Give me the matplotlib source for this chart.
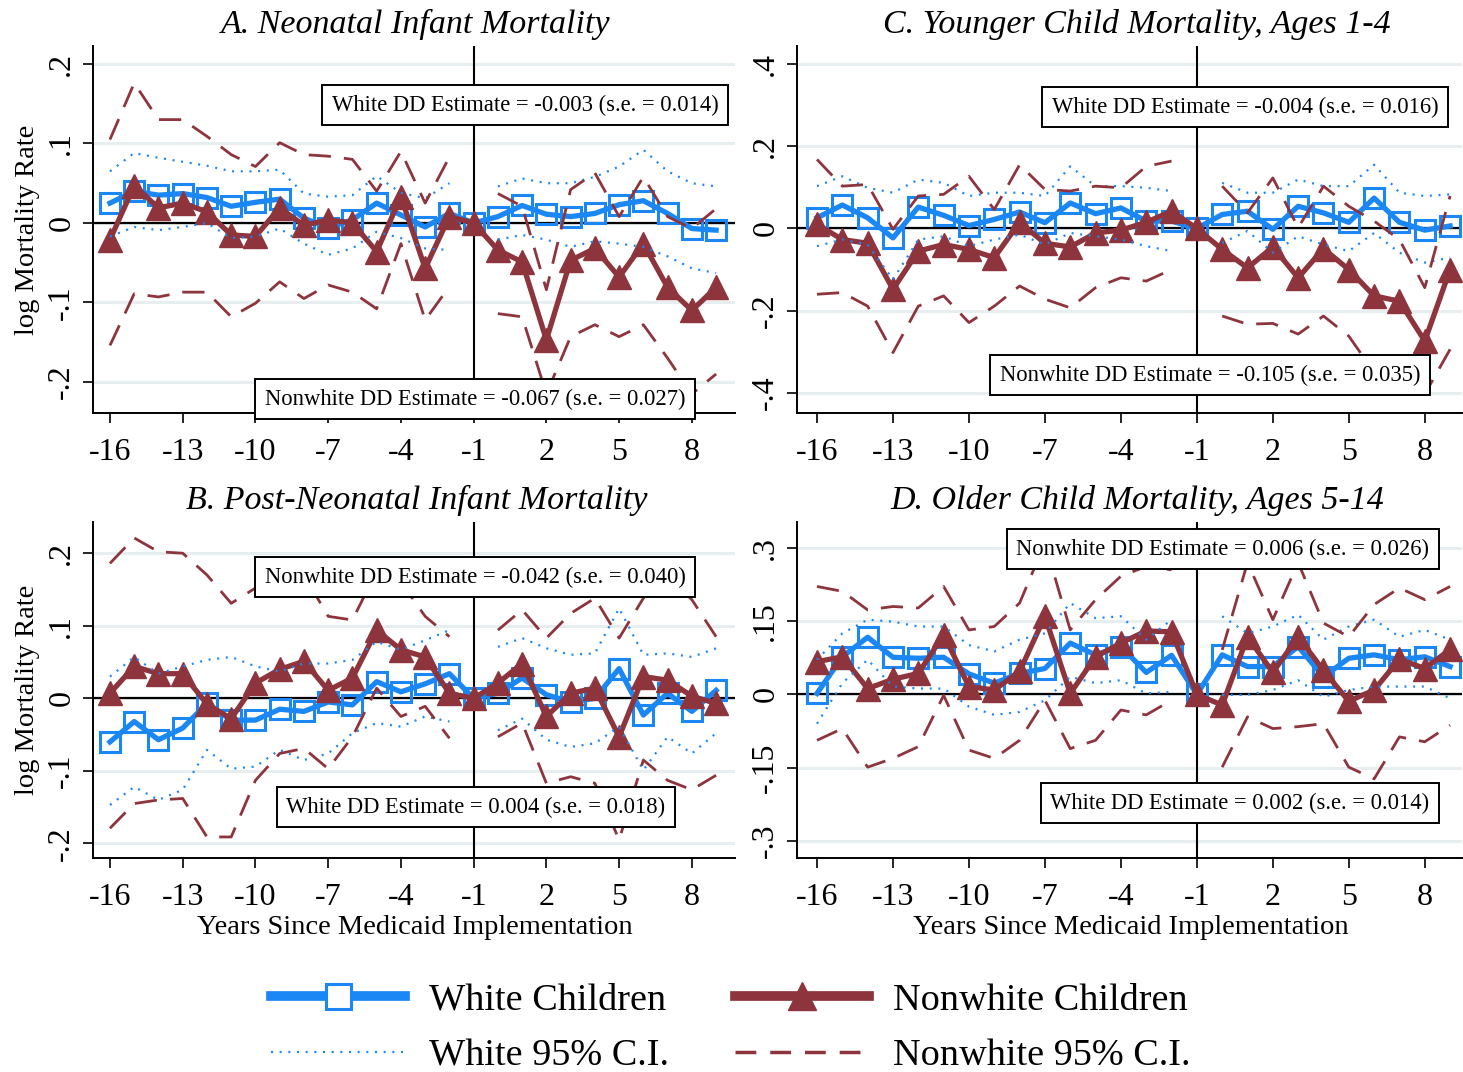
import numpy as np
import matplotlib
matplotlib.use("Agg")
import matplotlib.pyplot as plt
from matplotlib.lines import Line2D

plt.rcParams["font.family"] = ["Liberation Serif", "DejaVu Serif"]

nan = np.nan
years = list(range(-16, 10))
xticks = [-16, -13, -10, -7, -4, -1, 2, 5, 8]

# A. Neonatal infant mortality
white_a = [0.025, 0.040, 0.035, 0.037, 0.032, 0.021, 0.026, 0.030, 0.006, -0.006, 0.004, 0.025, 0.010,
           -0.005, 0.012, 0.000, 0.008, 0.022, 0.011, 0.008, 0.012, 0.023, 0.028, 0.012, -0.007, -0.009]
white_a_hi = [0.065, 0.088, 0.082, 0.077, 0.072, 0.065, 0.065, 0.067, 0.037, 0.033, 0.035, 0.059, 0.038,
              0.031, 0.050, nan, 0.046, 0.056, 0.050, 0.050, 0.058, 0.071, 0.092, 0.065, 0.050, 0.046]
white_a_lo = [-0.017, -0.005, -0.009, -0.005, 0.000, -0.019, -0.017, -0.007, -0.026, -0.040, -0.032, -0.011, -0.019,
              -0.032, -0.034, nan, -0.021, -0.015, -0.021, -0.030, -0.023, -0.026, -0.030, -0.042, -0.057, -0.063]
nonwhite_a = [-0.021, 0.047, 0.019, 0.025, 0.014, -0.015, -0.017, 0.019, -0.003, 0.004, 0.000, -0.036, 0.033,
              -0.057, 0.008, 0.000, -0.034, -0.049, -0.147, -0.047, -0.032, -0.068, -0.026, -0.081, -0.110, -0.081]
nonwhite_a_hi = [0.105, 0.176, 0.130, 0.130, 0.109, 0.086, 0.071, 0.101, 0.086, 0.084, 0.080, 0.040, 0.090,
                 0.025, 0.083, nan, 0.037, 0.021, -0.084, 0.042, 0.063, 0.008, 0.058, 0.008, -0.007, 0.018]
nonwhite_a_lo = [-0.154, -0.089, -0.093, -0.087, -0.087, -0.118, -0.101, -0.074, -0.095, -0.078, -0.087, -0.108, -0.026,
                 -0.122, -0.080, nan, -0.114, -0.118, -0.215, -0.143, -0.128, -0.143, -0.128, -0.170, -0.215, -0.190]

# B. Post-neonatal infant mortality
white_b = [-0.060, -0.032, -0.057, -0.041, -0.007, -0.030, -0.030, -0.015, -0.018, -0.005, -0.009, 0.023, 0.009,
           0.020, 0.034, 0.000, 0.007, 0.028, 0.005, -0.005, 0.000, 0.041, -0.023, 0.007, -0.018, 0.011]
white_b_hi = [0.030, 0.057, 0.034, 0.044, 0.053, 0.057, 0.044, 0.037, 0.048, 0.048, 0.053, 0.078, 0.067,
              0.080, 0.094, nan, 0.071, 0.083, 0.069, 0.060, 0.062, 0.124, 0.060, 0.062, 0.057, 0.069]
white_b_lo = [-0.147, -0.122, -0.140, -0.126, -0.071, -0.097, -0.094, -0.071, -0.085, -0.076, -0.048, -0.034, -0.039,
              -0.025, -0.032, nan, -0.044, -0.028, -0.057, -0.067, -0.062, -0.039, -0.099, -0.053, -0.076, -0.048]
nonwhite_b = [0.007, 0.044, 0.034, 0.034, -0.008, -0.028, 0.021, 0.040, 0.051, 0.011, 0.028, 0.094, 0.067,
              0.057, 0.007, 0.000, 0.021, 0.048, -0.025, 0.007, 0.014, -0.053, 0.030, 0.025, 0.003, -0.007]
nonwhite_b_hi = [0.186, 0.221, 0.202, 0.200, 0.170, 0.131, 0.152, 0.165, 0.170, 0.113, 0.108, 0.175, 0.160,
                 0.113, 0.085, nan, 0.094, 0.122, 0.083, 0.117, 0.138, 0.083, 0.138, 0.170, 0.136, 0.085]
nonwhite_b_lo = [-0.179, -0.145, -0.140, -0.138, -0.191, -0.191, -0.113, -0.076, -0.069, -0.097, -0.053, 0.014, -0.025,
                 -0.011, -0.055, nan, -0.053, -0.034, -0.117, -0.108, -0.117, -0.195, -0.085, -0.113, -0.126, -0.106]

# C. Younger child mortality, ages 1-4
white_c = [0.026, 0.057, 0.026, -0.023, 0.052, 0.032, 0.007, 0.022, 0.040, 0.014, 0.062, 0.036, 0.050,
           0.018, 0.018, 0.000, 0.034, 0.042, -0.002, 0.054, 0.038, 0.015, 0.074, 0.015, -0.004, 0.006]
white_c_hi = [0.103, 0.127, 0.099, 0.087, 0.119, 0.111, 0.079, 0.087, 0.087, 0.079, 0.151, 0.103, 0.103,
              0.099, 0.091, nan, 0.111, 0.087, 0.087, 0.119, 0.103, 0.103, 0.155, 0.087, 0.079, 0.083]
white_c_lo = [-0.043, -0.027, -0.039, -0.124, -0.027, -0.019, -0.043, -0.027, -0.015, -0.039, -0.011, -0.019, -0.027,
              -0.043, -0.055, nan, -0.035, -0.006, -0.059, -0.019, -0.039, -0.055, -0.011, -0.059, -0.083, -0.071]
nonwhite_c = [0.010, -0.027, -0.036, -0.148, -0.055, -0.039, -0.051, -0.071, 0.015, -0.036, -0.045, -0.011, -0.004,
              0.015, 0.042, 0.000, -0.051, -0.096, -0.045, -0.120, -0.049, -0.100, -0.164, -0.177, -0.274, -0.100]
nonwhite_c_hi = [0.168, 0.103, 0.107, -0.002, 0.079, 0.083, 0.127, 0.046, 0.155, 0.095, 0.091, 0.103, 0.099,
                 0.151, 0.164, nan, 0.103, 0.038, 0.123, 0.002, 0.103, 0.054, 0.018, -0.027, -0.144, 0.079]
nonwhite_c_lo = [-0.160, -0.156, -0.189, -0.302, -0.189, -0.164, -0.229, -0.189, -0.140, -0.172, -0.193, -0.144, -0.120,
                 -0.128, -0.100, nan, -0.213, -0.233, -0.231, -0.257, -0.213, -0.262, -0.350, -0.330, -0.403, -0.294]

# D. Older child mortality, ages 5-14
white_d = [0.002, 0.077, 0.117, 0.076, 0.074, 0.076, 0.042, 0.023, 0.043, 0.053, 0.105, 0.081, 0.098,
           0.045, 0.080, 0.000, 0.081, 0.057, 0.057, 0.098, 0.036, 0.074, 0.081, 0.071, 0.077, 0.057]
white_d_hi = [0.071, 0.125, 0.153, 0.149, 0.139, 0.139, 0.101, 0.088, 0.112, 0.125, 0.187, 0.156, 0.160,
              0.112, 0.153, nan, 0.160, 0.125, 0.139, 0.163, 0.112, 0.139, 0.153, 0.118, 0.132, 0.112]
white_d_lo = [-0.060, 0.023, 0.071, 0.016, 0.012, 0.012, -0.025, -0.042, -0.036, -0.012, 0.036, 0.023, 0.029,
              0.002, 0.005, nan, -0.001, -0.001, 0.009, 0.029, -0.005, 0.009, 0.016, 0.016, 0.016, -0.008]
nonwhite_d = [0.067, 0.077, 0.012, 0.031, 0.043, 0.122, 0.016, 0.009, 0.047, 0.160, 0.002, 0.077, 0.105,
              0.130, 0.128, 0.000, -0.022, 0.118, 0.045, 0.118, 0.049, -0.014, 0.009, 0.072, 0.053, 0.092]
nonwhite_d_hi = [0.221, 0.211, 0.173, 0.180, 0.177, 0.221, 0.132, 0.139, 0.187, 0.310, 0.132, 0.194, 0.242,
                 0.262, 0.255, nan, 0.091, 0.270, 0.153, 0.270, 0.146, 0.118, 0.184, 0.218, 0.194, 0.221]
nonwhite_d_lo = [-0.094, -0.070, -0.149, -0.131, -0.107, -0.002, -0.114, -0.131, -0.094, -0.012, -0.111, -0.094, -0.032,
                 -0.042, -0.012, nan, -0.149, -0.046, -0.070, -0.066, -0.060, -0.149, -0.173, -0.087, -0.097, -0.063]

BLUE = "#1a87f5"
RED = "#8e343c"
GRID = "#e6eef0"

W, H = 1463, 1072
fig = plt.figure(figsize=(W / 100, H / 100), dpi=100)


def px_axes(left, top, right, bottom):
    return fig.add_axes([left / W, 1 - bottom / H, (right - left) / W, (bottom - top) / H])


def panel(ax, white, w_lo, w_hi, nonwhite, n_lo, n_hi, title, title_x, yt, ytl, ylim, xlim):
    ax.set_xlim(*xlim)
    ax.set_ylim(*ylim)
    ax.set_yticks(yt)
    ax.set_yticklabels(ytl, rotation=90, va="center")
    ax.set_xticks(xticks)
    ax.set_xticklabels([str(t) for t in xticks])
    ax.yaxis.grid(True, color=GRID, lw=2.2)
    ax.set_axisbelow(True)
    for s in ["top", "right"]:
        ax.spines[s].set_visible(False)
    for s in ["left", "bottom"]:
        ax.spines[s].set_linewidth(1.4)
    ax.tick_params(labelsize=23, length=7, width=1.2)
    ax.tick_params(axis="x", pad=11)
    ax.tick_params(axis="y", pad=5)
    ax.axhline(0, color="black", lw=1.6, zorder=1)
    ax.axvline(-1, color="black", lw=1.5, zorder=1)

    ax.plot(years, white, color=BLUE, lw=3.8, marker="s", ms=14, mfc="none",
            mec=BLUE, mew=2.2, zorder=3)
    ax.plot(years, nonwhite, color=RED, lw=3.8, marker="^", ms=17, mfc=RED,
            mec=RED, zorder=4)
    for ci in (w_lo, w_hi):
        ax.plot(years, ci, color=BLUE, lw=1.6, dashes=(0.9, 3.0), zorder=5)
    for ci in (n_lo, n_hi):
        ax.plot(years, ci, color=RED, lw=2.0, dashes=(8, 4.7), zorder=5)
    ax.set_title(title, fontsize=24.5, style="italic", x=title_x, pad=9)


ax_a = px_axes(93, 46, 735, 413)
ax_c = px_axes(797, 46, 1462, 413)
ax_b = px_axes(93, 522, 735, 858)
ax_d = px_axes(797, 522, 1462, 858)

panel(ax_a, white_a, white_a_lo, white_a_hi, nonwhite_a, nonwhite_a_lo, nonwhite_a_hi,
      "A. Neonatal Infant Mortality", 0.503,
      [-0.2, -0.1, 0, 0.1, 0.2], ["-.2", "-.1", "0", ".1", ".2"], (-0.239, 0.2226), (-16.70, 9.78))
panel(ax_c, white_c, white_c_lo, white_c_hi, nonwhite_c, nonwhite_c_lo, nonwhite_c_hi,
      "C. Younger Child Mortality, Ages 1-4", 0.511,
      [-0.4, -0.2, 0, 0.2, 0.4], ["-.4", "-.2", "0", ".2", ".4"], (-0.449, 0.444), (-16.79, 9.47))
panel(ax_b, white_b, white_b_lo, white_b_hi, nonwhite_b, nonwhite_b_lo, nonwhite_b_hi,
      "B. Post-Neonatal Infant Mortality", 0.504,
      [-0.2, -0.1, 0, 0.1, 0.2], ["-.2", "-.1", "0", ".1", ".2"], (-0.220, 0.243), (-16.70, 9.78))
panel(ax_d, white_d, white_d_lo, white_d_hi, nonwhite_d, nonwhite_d_lo, nonwhite_d_hi,
      "D. Older Child Mortality, Ages 5-14", 0.511,
      [-0.3, -0.15, 0, 0.15, 0.3], ["-.3", "-.15", "0", ".15", ".3"], (-0.335, 0.353), (-16.79, 9.47))

for ax in (ax_a, ax_b):
    ax.set_ylabel("log Mortality Rate", fontsize=20.5)
    ax.yaxis.set_label_coords(-0.083, 0.5)
for ax in (ax_b, ax_d):
    ax.set_xlabel("Years Since Medicaid Implementation", fontsize=20.5)
    ax.xaxis.set_label_coords(0.5016, -0.17)

# DD estimate boxes (text centres in pixels)
boxes = [
    (525, 105, "White DD Estimate = -0.003 (s.e. = 0.014)"),
    (475, 399, "Nonwhite DD Estimate = -0.067 (s.e. = 0.027)"),
    (1245, 107, "White DD Estimate = -0.004 (s.e. = 0.016)"),
    (1210, 375, "Nonwhite DD Estimate = -0.105 (s.e. = 0.035)"),
    (475, 577, "Nonwhite DD Estimate = -0.042 (s.e. = 0.040)"),
    (476, 807, "White DD Estimate = 0.004 (s.e. = 0.018)"),
    (1223, 549, "Nonwhite DD Estimate = 0.006 (s.e. = 0.026)"),
    (1240, 803, "White DD Estimate = 0.002 (s.e. = 0.014)"),
]
for x, y, s in boxes:
    fig.text(x / W, 1 - y / H, s, ha="center", va="center", fontsize=16.3,
             bbox=dict(boxstyle="square,pad=0.42", fc="white", ec="black", lw=1.4))

handles = [
    Line2D([], [], color=BLUE, lw=7, marker="s", ms=18, mfc="white", mec=BLUE, mew=2.2),
    Line2D([], [], color=BLUE, lw=1.6, dashes=(0.9, 3.0)),
    Line2D([], [], color=RED, lw=7, marker="^", ms=20, mfc=RED, mec=RED),
    Line2D([], [], color=RED, lw=2.5, dashes=(6, 4)),
]
labels = ["White Children", "White 95% C.I.", "Nonwhite Children", "Nonwhite 95% C.I."]
fig.legend(handles, labels, loc="center", bbox_to_anchor=(0.4995, 0.041), ncol=2,
           frameon=False, fontsize=27.5, handlelength=3.5, handletextpad=0.62,
           columnspacing=1.75, labelspacing=0.55, numpoints=1)

fig.savefig("out.png", dpi=100, facecolor="white")
